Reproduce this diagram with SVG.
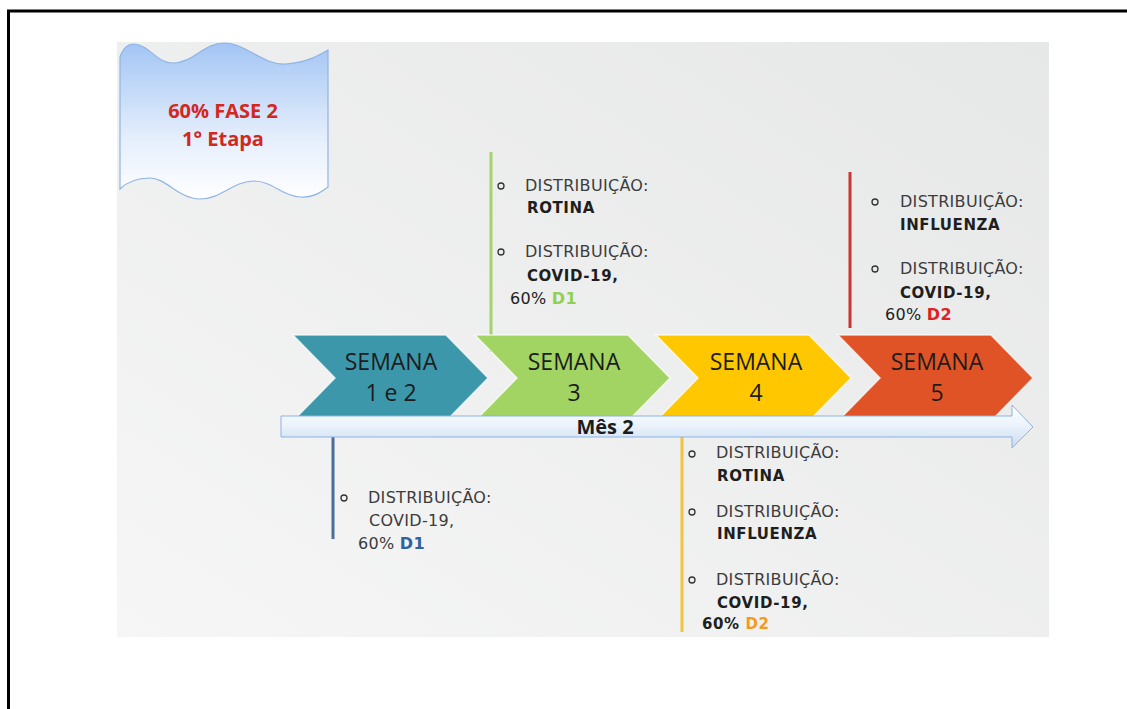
<svg xmlns="http://www.w3.org/2000/svg" width="1127" height="709" viewBox="0 0 1127 709">
<defs>
<linearGradient id="bg" x1="1" y1="0" x2="0" y2="1">
<stop offset="0" stop-color="#e6e7e7"/>
<stop offset="1" stop-color="#f6f6f6"/>
</linearGradient>
<linearGradient id="ban" x1="0" y1="0" x2="0" y2="1">
<stop offset="0" stop-color="#a3c5f4"/>
<stop offset="0.6" stop-color="#e4eefc"/>
<stop offset="1" stop-color="#ffffff"/>
</linearGradient>
<linearGradient id="arr" x1="0" y1="0" x2="0" y2="1">
<stop offset="0" stop-color="#ffffff"/>
<stop offset="0.5" stop-color="#eaf2fb"/>
<stop offset="1" stop-color="#c8dbf2"/>
</linearGradient>
<style>
.chev{stroke:#ffffff;stroke-opacity:0.7;stroke-width:1.5}
.sem{font-family:"Open Sans","Liberation Sans",sans-serif;font-size:23px;fill:#1c1c1c;text-anchor:middle}
.reg{font-family:"DejaVu Sans","Liberation Sans",sans-serif;font-size:16px;letter-spacing:0.3px;fill:#3c3c3c}
.bld{font-family:"DejaVu Sans","Liberation Sans",sans-serif;font-size:15px;letter-spacing:0.6px;font-weight:bold;fill:#1e1e1e}
.bul{fill:none;stroke:#333;stroke-width:1.3}
.ban{font-family:"Open Sans","Liberation Sans",sans-serif;font-size:20px;font-weight:bold;fill:#d2281e;text-anchor:middle}
</style>
</defs>
<rect x="0" y="0" width="1127" height="709" fill="#ffffff"/>
<path d="M8.5,709 L8.5,11 L1127,11" fill="none" stroke="#000" stroke-width="3"/>
<rect x="117" y="42" width="932" height="595" fill="url(#bg)"/>

<g id="banner">
<path d="M120,57 C123,48 127,44 134,44 C150,45 156,63 173,63 C193,63 204,43 224,43 C246,43 262,65 285,64 C305,63 318,56 328,50 L328,187 C320,193 312,198 300,197 C282,196 272,181 254,181 C233,181 222,199 200,199 C179,199 166,178 150,178 C136,178 126,183 120,189 Z" fill="url(#ban)" stroke="#8fb4e6" stroke-width="1.2"/>
<text class="ban" x="223" y="118">60% FASE 2</text>
<text class="ban" x="223" y="146">1° Etapa</text>
</g>

<g id="connectors" fill="none" stroke-width="3">
<line x1="491" y1="152" x2="491" y2="352" stroke="#a5d16e"/>
<line x1="850" y1="172" x2="850" y2="328" stroke="#cc3333"/>
<line x1="333" y1="437" x2="333" y2="539" stroke="#4a6e9c"/>
<line x1="682" y1="437" x2="682" y2="632" stroke="#f2c43a"/>
</g>

<g id="chevron-1">
<polygon class="chev" points="293,335 446,335 488,378 446,421 293,421 335,378" fill="#3c97ab"/>
<text class="sem" x="391" y="370">SEMANA</text>
<text class="sem" x="391" y="401">1 e 2</text>
</g>
<g id="chevron-2">
<polygon class="chev" points="475,335 628,335 670,378 628,421 475,421 517,378" fill="#a1d462"/>
<text class="sem" x="574" y="370">SEMANA</text>
<text class="sem" x="574" y="401">3</text>
</g>
<g id="chevron-3">
<polygon class="chev" points="656,335 809,335 851,378 809,421 656,421 698,378" fill="#ffc700"/>
<text class="sem" x="756" y="370">SEMANA</text>
<text class="sem" x="756" y="401">4</text>
</g>
<g id="chevron-4">
<polygon class="chev" points="838,335 991,335 1033,378 991,421 838,421 880,378" fill="#e05327"/>
<text class="sem" x="937" y="370">SEMANA</text>
<text class="sem" x="937" y="401">5</text>
</g>

<g id="timeline">
<path d="M281,416 L1012,416 L1012,405 L1033,427 L1012,448 L1012,437 L281,437 Z" fill="url(#arr)" stroke="#8db3e2" stroke-width="1"/>
<text x="605" y="434" font-family="Open Sans, Liberation Sans, sans-serif" font-size="20" font-weight="bold" fill="#1c1c1c" text-anchor="middle">Mês 2</text>
</g>

<g id="note-semana-3">
<circle class="bul" cx="501" cy="186" r="3"/>
<text class="reg" x="525" y="191">DISTRIBUIÇÃO:</text>
<text class="bld" x="527" y="213">ROTINA</text>
<circle class="bul" cx="501" cy="252" r="3"/>
<text class="reg" x="525" y="257">DISTRIBUIÇÃO:</text>
<text class="bld" x="527" y="281">COVID-19,</text>
<text class="reg" x="510" y="304" style="fill:#222">60% <tspan font-weight="bold" style="fill:#92d050">D1</tspan></text>
</g>

<g id="note-semana-5">
<circle class="bul" cx="875" cy="202" r="3"/>
<text class="reg" x="900" y="207">DISTRIBUIÇÃO:</text>
<text class="bld" x="900" y="230">INFLUENZA</text>
<circle class="bul" cx="875" cy="269" r="3"/>
<text class="reg" x="900" y="274">DISTRIBUIÇÃO:</text>
<text class="bld" x="900" y="298">COVID-19,</text>
<text class="reg" x="885" y="320" style="fill:#222">60% <tspan font-weight="bold" style="fill:#e02222">D2</tspan></text>
</g>

<g id="note-semana-1-2">
<circle class="bul" cx="344" cy="498" r="3"/>
<text class="reg" x="368" y="503">DISTRIBUIÇÃO:</text>
<text class="reg" x="369" y="526">COVID-19,</text>
<text class="reg" x="358" y="549">60% <tspan font-weight="bold" style="fill:#2f62a3">D1</tspan></text>
</g>

<g id="note-semana-4">
<circle class="bul" cx="692" cy="454" r="3"/>
<text class="reg" x="716" y="458">DISTRIBUIÇÃO:</text>
<text class="bld" x="717" y="481">ROTINA</text>
<circle class="bul" cx="692" cy="512" r="3"/>
<text class="reg" x="716" y="517">DISTRIBUIÇÃO:</text>
<text class="bld" x="717" y="539">INFLUENZA</text>
<circle class="bul" cx="692" cy="580" r="3"/>
<text class="reg" x="716" y="585">DISTRIBUIÇÃO:</text>
<text class="bld" x="717" y="608">COVID-19,</text>
<text class="bld" x="702" y="629">60% <tspan style="fill:#f39a1f">D2</tspan></text>
</g>
</svg>
